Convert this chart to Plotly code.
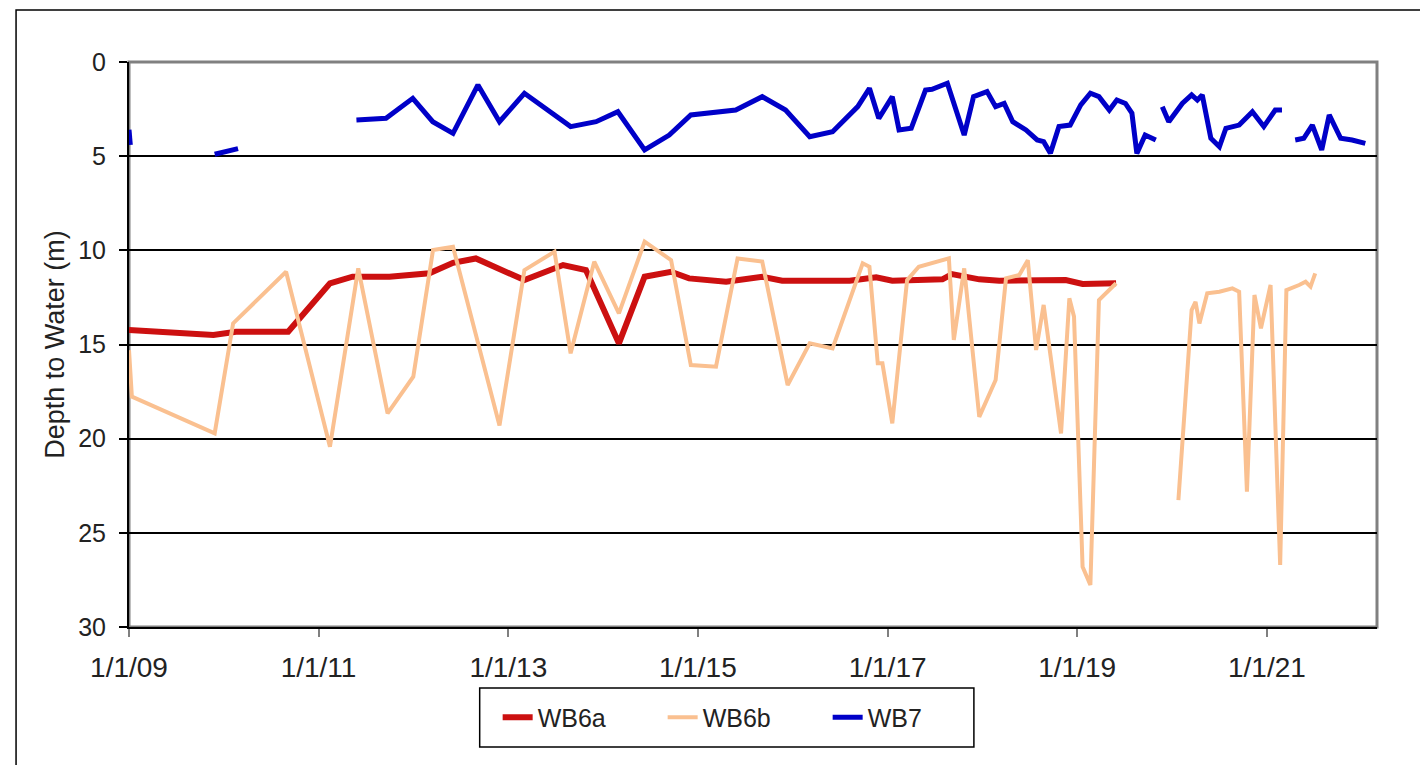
import plotly.graph_objects as go

# depth to water readings (m); None = break in record
wb6a_dates = ["2009-01-01", "2009-11-22", "2010-02-17", "2010-09-06", "2011-02-14",
              "2011-05-12", "2011-10-01", "2012-03-03", "2012-06-02", "2012-08-29",
              "2013-03-04", "2013-07-31", "2013-10-27", "2014-03-03", "2014-06-10",
              "2014-09-20", "2014-11-28", "2015-04-20", "2015-09-06", "2015-11-22",
              "2016-08-08", "2016-11-18", "2017-01-19", "2017-07-31", "2017-09-06",
              "2017-12-20", "2018-03-07", "2018-11-18", "2019-01-22", "2019-05-31"]
wb6a_depth = [14.23, 14.50, 14.32, 14.32, 11.75, 11.40, 11.40, 11.22, 10.66, 10.43,
              11.58, 10.78, 11.05, 14.94, 11.40, 11.14, 11.49, 11.67, 11.40, 11.61,
              11.61, 11.43, 11.61, 11.54, 11.26, 11.54, 11.61, 11.58, 11.79, 11.75]

wb6b_dates = ["2009-01-01", "2009-01-12", "2009-11-27", "2010-02-06", "2010-08-29",
              "2011-02-14", "2011-06-03", "2011-09-24", "2012-01-01", "2012-03-17",
              "2012-06-02", "2012-11-28", "2013-03-04", "2013-06-28", "2013-08-29",
              "2013-11-28", "2014-03-03", "2014-06-10", "2014-09-20", "2014-12-05",
              "2015-03-12", "2015-06-03", "2015-09-06", "2015-12-13", "2016-03-07",
              "2016-06-03", "2016-09-27", "2016-10-23", "2016-11-24", "2016-12-12",
              "2017-01-19", "2017-03-17", "2017-05-01", "2017-08-25", "2017-09-13",
              "2017-10-23", "2017-12-20", "2018-02-21", "2018-04-02", "2018-05-23",
              "2018-06-25", "2018-07-27", "2018-08-25", "2018-10-31", "2018-12-02",
              "2018-12-20", "2019-01-22", "2019-02-21", "2019-03-26", "2019-04-28",
              "2019-05-31", "2019-08-01", "2020-01-26", "2020-03-17", "2020-04-01",
              "2020-04-16", "2020-05-16", "2020-07-02", "2020-08-21", "2020-09-16",
              "2020-10-16", "2020-11-14", "2020-12-09", "2021-01-15", "2021-02-21",
              "2021-03-17", "2021-05-05", "2021-05-30", "2021-06-18", "2021-07-06"]
wb6b_depth = [15.3, 17.77, 19.72, 13.88, 11.14, 20.43, 10.96, 18.66, 16.71, 9.98,
              9.81, 19.30, 11.05, 10.07, 15.47, 10.60, 13.35, 9.54, 10.52, 16.09,
              16.18, 10.43, 10.60, 17.15, 14.94, 15.21, 10.69, 10.87, 16.0, 16.0,
              19.19, 11.58, 10.87, 10.43, 14.76, 10.96, 18.84, 16.89, 11.49, 11.31,
              10.52, 15.29, 12.90, 19.72, 12.55, 13.52, 26.80, 27.77, 12.64, 12.20,
              11.75, None, 23.26, 13.17, 12.73, 13.88, 12.28, 12.20, 12.02, 12.20,
              22.82, 12.37, 14.14, 11.84, 26.71, 12.11, 11.84, 11.67, 11.93, 11.22]

wb7_dates = ["2009-01-01", "2009-01-06", "2009-06-01", "2009-11-27", "2009-12-28",
             "2010-02-25", "2010-10-01", "2011-05-27", "2011-09-18", "2011-12-30",
             "2012-03-16", "2012-06-02", "2012-09-06", "2012-11-28", "2013-03-04",
             "2013-08-29", "2013-12-05", "2014-02-27", "2014-06-10", "2014-09-13",
             "2014-12-05", "2015-05-27", "2015-09-06", "2015-12-05", "2016-03-07",
             "2016-06-03", "2016-09-08", "2016-10-23", "2016-11-28", "2017-01-19",
             "2017-02-14", "2017-04-02", "2017-05-27", "2017-06-21", "2017-08-19",
             "2017-10-23", "2017-11-28", "2018-01-19", "2018-02-21", "2018-03-26",
             "2018-04-28", "2018-06-18", "2018-07-31", "2018-08-25", "2018-09-20",
             "2018-10-23", "2018-12-05", "2019-01-15", "2019-02-21", "2019-03-26",
             "2019-05-05", "2019-06-03", "2019-07-06", "2019-07-31", "2019-08-19",
             "2019-09-20", "2019-10-31", "2019-11-10", "2019-11-25", "2019-12-20",
             "2020-02-10", "2020-03-17", "2020-04-08", "2020-04-27", "2020-05-30",
             "2020-07-02", "2020-07-27", "2020-09-16", "2020-11-06", "2020-12-20",
             "2021-02-02", "2021-02-28", "2021-03-20", "2021-04-20", "2021-05-23",
             "2021-06-25", "2021-07-31", "2021-08-29", "2021-10-12", "2021-11-25",
             "2022-01-15"]
wb7_depth = [3.6, 4.4, None, 4.9, 4.8, 4.6, None, 3.08, 2.99, 1.93,
             3.17, 3.79, 1.22, 3.17, 1.66, 3.43, 3.17, 2.64, 4.67, 3.88,
             2.81, 2.55, 1.84, 2.55, 3.97, 3.70, 2.37, 1.40, 2.99, 1.84,
             3.61, 3.52, 1.49, 1.45, 1.13, 3.88, 1.84, 1.57, 2.37, 2.20,
             3.17, 3.61, 4.14, 4.23, 4.85, 3.43, 3.35, 2.28, 1.66, 1.84,
             2.55, 2.02, 2.20, 2.72, 4.85, 3.88, 4.14, None, 2.37, 3.17,
             2.20, 1.75, 2.02, 1.75, 4.05, 4.50, 3.52, 3.35, 2.64, 3.43,
             2.55, 2.55, None, 4.14, 4.05, 3.35, 4.67, 2.81, 4.05, 4.14,
             4.32]

tick_dates = ["2009-01-01", "2011-01-01", "2013-01-01", "2015-01-01",
              "2017-01-01", "2019-01-01", "2021-01-01"]
tick_labels = ["1/1/09", "1/1/11", "1/1/13", "1/1/15", "1/1/17", "1/1/19", "1/1/21"]

font = "Liberation Sans, Arial, sans-serif"

fig = go.Figure()
fig.add_trace(go.Scatter(x=wb6a_dates, y=wb6a_depth, mode="lines", name="WB6a",
                         line=dict(color="#CC1010", width=6)))
fig.add_trace(go.Scatter(x=wb6b_dates, y=wb6b_depth, mode="lines", name="WB6b",
                         line=dict(color="#FAC090", width=4)))
fig.add_trace(go.Scatter(x=wb7_dates, y=wb7_depth, mode="lines", name="WB7",
                         line=dict(color="#0000C8", width=5)))

# grey frame round the plot area, black axes on left and bottom drawn over it
fig.add_shape(type="rect", xref="paper", yref="paper", x0=0, x1=1, y0=0, y1=1,
              line=dict(color="#808080", width=3), layer="below")
# outer chart border
fig.add_shape(type="rect", xref="paper", yref="paper", x0=-0.0905, x1=1.05,
              y0=-0.28, y1=1.092, line=dict(color="black", width=1.5))
# legend box
fig.add_shape(type="rect", xref="paper", yref="paper", x0=0.281, x1=0.677,
              y0=-0.2124, y1=-0.108, line=dict(color="black", width=1.5))

fig.update_layout(
    width=1420, height=765,
    margin=dict(l=129, r=43, t=62, b=138),
    paper_bgcolor="white", plot_bgcolor="white",
    showlegend=True,
    legend=dict(orientation="h", x=0.2954, xanchor="left", y=-0.160, yanchor="middle",
                bgcolor="rgba(0,0,0,0)", borderwidth=0,
                entrywidth=120, itemwidth=30,
                font=dict(family=font, size=25, color="#222222")),
)

fig.update_xaxes(type="date", range=["2009-01-01", "2022-03-01"],
                 tickvals=tick_dates, ticktext=tick_labels,
                 ticks="outside", ticklen=8, tickcolor="#808080", tickwidth=1.5,
                 showgrid=False, showline=True, linecolor="black", linewidth=2,
                 ticklabelstandoff=6,
                 tickfont=dict(family=font, size=28, color="#222222"))

fig.update_yaxes(range=[30, 0], tickvals=[0, 5, 10, 15, 20, 25, 30],
                 ticks="outside", ticklen=8, tickcolor="black", tickwidth=1.5,
                 showgrid=True, gridcolor="black", gridwidth=1.5,
                 showline=True, linecolor="black", linewidth=2, zeroline=False,
                 ticklabelstandoff=8,
                 tickfont=dict(family=font, size=25, color="#222222"),
                 title=dict(text="Depth to Water (m)", standoff=6,
                            font=dict(family=font, size=27, color="#222222")))

# the page keeps the browser's default body margin otherwise
fig.write_html("out.html", config={"displayModeBar": False},
               post_script="document.body.style.margin='0';")
